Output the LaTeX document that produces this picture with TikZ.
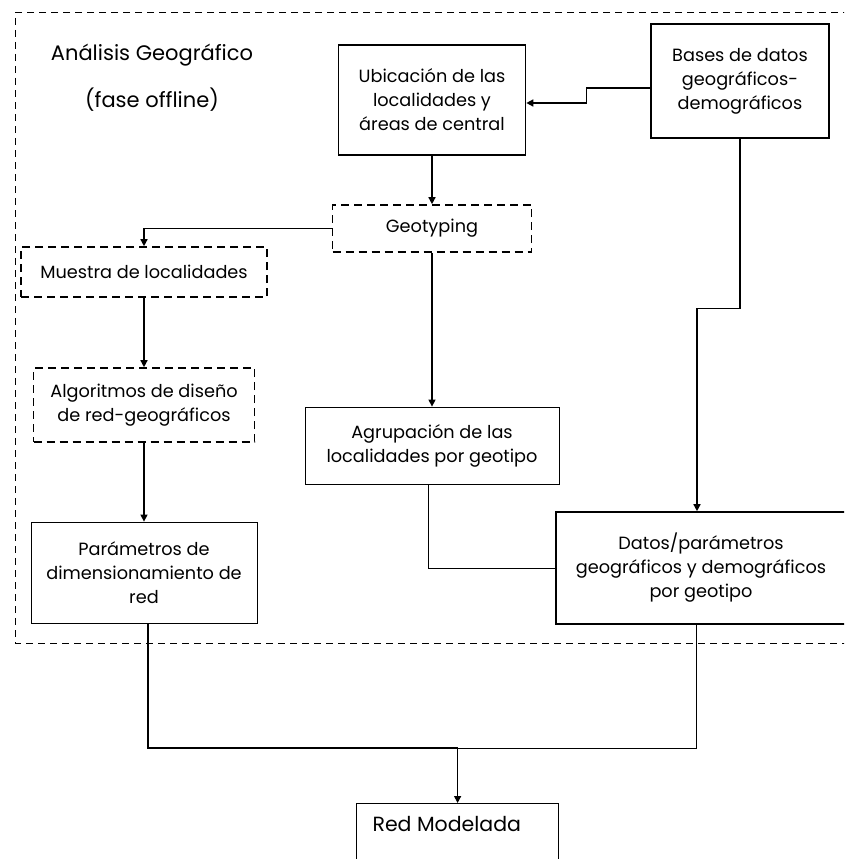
\documentclass[tikz,border=0pt]{standalone}
\usepackage{fontspec}
\setmainfont{Poppins}
\usetikzlibrary{arrows.meta}

\begin{document}
\begin{tikzpicture}[x=1pt, y=-1pt,
    box/.style={draw, line width=1.6pt, align=center, inner sep=0pt,
        font=\fontsize{17.7}{24}\selectfont},
    dbox/.style={box, dash pattern=on 8pt off 5pt},
    fbox/.style={box, line width=0.8pt},
    conn/.style={line width=1.4pt, -{Triangle[length=7pt, width=7pt]}},
    link/.style={line width=0.8pt}]
    \clip (0,0) rectangle (844,859);

    % Frame of the offline phase
    \draw[line width=1pt, dash pattern=on 7pt off 5pt] (850,13) -- (15,13) -- (15,643) -- (850,643);
    \node[font=\fontsize{21}{24}\selectfont] (titulo) at (152,55) {Análisis Geográfico};
    \node[font=\fontsize{21}{24}\selectfont] (fase) at (152,100) {(fase offline)};

    % Boxes
    \node[box, minimum width=187pt, minimum height=110pt] (ubic) at (432,100) {Ubicación de las\\localidades y\\áreas de central};
    \node[box, line width=1.2pt, minimum width=178pt, minimum height=114pt] (bases) at (740,81) {Bases de datos\\geográficos-\\demográficos};
    \node[dbox, minimum width=199pt, minimum height=47pt] (geo) at (432,228.5) {Geotyping};
    \node[dbox, minimum width=246pt, minimum height=50pt] (muestra) at (144,272) {Muestra de localidades};
    \node[dbox, minimum width=221pt, minimum height=74pt] (algo) at (144,405) {Algoritmos de diseño\\de red-geográficos};
    \node[fbox, minimum width=226pt, minimum height=101pt] (param) at (144,572.5) {Parámetros de\\dimensionamiento de\\red};
    \node[fbox, minimum width=254pt, minimum height=77pt] (agrup) at (432,445.5) {Agrupación de las\\localidades por geotipo};
    \node[box, minimum width=290pt, minimum height=112pt] (datos) at (701,568) {Datos/parámetros\\geográficos y demográficos\\por geotipo};
    \node[box, line width=1.2pt, minimum width=202pt, minimum height=80pt, anchor=north west] (red) at (356,803) {};
    \node[anchor=west, font=\fontsize{20.5}{24}\selectfont] (redtxt) at (369,824) {Red Modelada};

    % Connectors
    \draw[conn] ([yshift=-7pt]bases.west) -- ++(-64,0) |- ([yshift=-3pt]ubic.east);
    \draw[conn] (ubic.south) -- (geo.north);
    \draw[conn] (geo.west) -| (muestra.north);
    \draw[conn] (muestra.south) -- (algo.north);
    \draw[conn] (algo.south) -- (param.north);
    \draw[conn] (geo.south) -- (agrup.north);
    \draw[conn] (bases.south) -- ++(0,170) -| ([xshift=-4pt]datos.north);
    \draw[link] ([xshift=-4pt]agrup.south) |- (datos.west);

    % Towards the modelled network
    \coordinate (join) at (red.north |- 0,748);
    \draw[line width=1.2pt] ([xshift=4pt]param.south) |- (join);
    \draw[link] ([xshift=-5pt]datos.south) |- (join);
    \draw[conn] (join) -- (red.north);
\end{tikzpicture}
\end{document}
